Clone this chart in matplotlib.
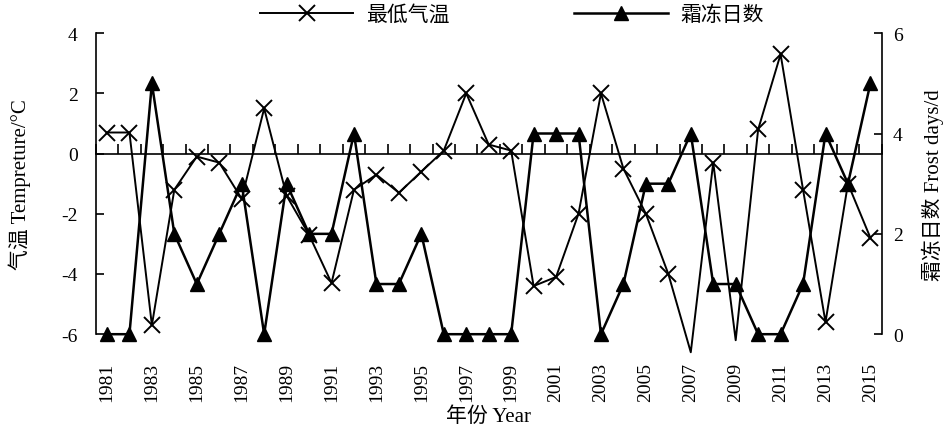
import numpy as np
import matplotlib.pyplot as plt

plt.rcParams['font.family'] = ['Liberation Serif', 'Noto Sans CJK SC']
plt.rcParams['axes.unicode_minus'] = False

years = list(range(1981, 2016))
tmin = [0.7, 0.7, -5.7, -1.2, -0.1, -0.3, -1.5, 1.5, -1.4, -2.7,
        -4.3, -1.2, -0.7, -1.3, -0.6, 0.1, 2.0, 0.3, 0.1, -4.4,
        -4.1, -2.0, 2.0, -0.5, -2.0, -4.0, -6.6, -0.3, -6.2, 0.8,
        3.3, -1.2, -5.6, -1.0, -2.8]
frost = [0, 0, 5, 2, 1, 2, 3, 0, 3, 2,
         2, 4, 1, 1, 2, 0, 0, 0, 0, 4,
         4, 4, 0, 1, 3, 3, 4, 1, 1, 0,
         0, 1, 4, 3, 5]
year_labels = [str(y) for y in years[::2]]

fig = plt.figure(figsize=(9.48, 4.27), dpi=100)
ax = fig.add_axes([0.101, 0.215, 0.829, 0.705])
ax2 = ax.twinx()

# markers for points below the axis floor are clipped in the original
shown = [i for i, v in enumerate(tmin) if v >= -6]
l1, = ax.plot(years, tmin, color='black', lw=1.4, marker='x', ms=12, mew=1.4,
              markevery=shown, clip_on=False, zorder=3)
l2, = ax2.plot(years, frost, color='black', lw=1.8, marker='^', ms=10,
               clip_on=False, zorder=3)

ax.set_xlim(1980.5, 2015.5)
ax.set_ylim(-6, 4)
ax.set_yticks([-6, -4, -2, 0, 2, 4])
ax2.set_ylim(0, 6)
ax2.set_yticks([0, 2, 4, 6])

for a in (ax, ax2):
    a.spines['top'].set_visible(False)
    a.spines['bottom'].set_visible(False)
    for s in a.spines.values():
        s.set_linewidth(1.2)
ax.spines['right'].set_visible(False)
ax2.spines['left'].set_visible(False)

ax.set_xticks(years[::2])
ax.set_xticklabels(year_labels, rotation=90)
ax.tick_params(axis='x', length=0, pad=20, labelsize=14)
ax.tick_params(axis='y', direction='in', length=6, width=1.2, pad=13, labelsize=14)
ax2.tick_params(axis='y', direction='in', length=6, width=1.2, pad=8, labelsize=14)

# zero line with category ticks
sec = ax.secondary_xaxis(0.6)
sec.set_xticks(np.arange(1980.5, 2016, 1.0))
sec.tick_params(axis='x', direction='out', length=7, width=1.2, labeltop=False, labelbottom=False)
for s in sec.spines.values():
    s.set_linewidth(1.2)

ax.set_xlabel('年份 Year', fontsize=15, labelpad=4)
ax.set_ylabel('气温 Tempreture/°C', fontsize=15, labelpad=22)
ax2.set_ylabel('霜冻日数 Frost days/d', fontsize=15, rotation=90, labelpad=14)

fig.legend([l1, l2], ['最低气温', '霜冻日数'], loc='center', bbox_to_anchor=(0.54, 0.962),
           ncol=2, frameon=False, fontsize=15, handlelength=4.5, columnspacing=6,
           handletextpad=0.6)

fig.savefig('out.png', dpi=100)
